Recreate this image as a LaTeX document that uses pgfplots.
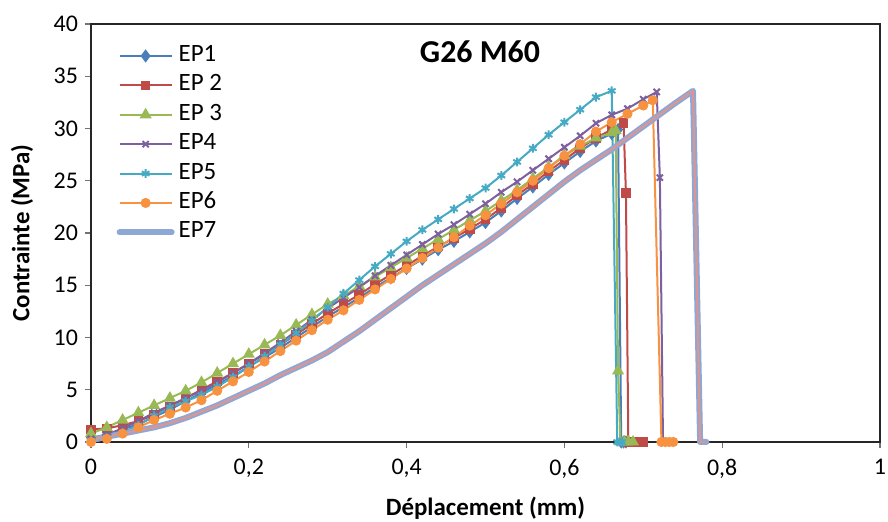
\documentclass[border=0pt]{standalone}
\usepackage{fontspec}
\setmainfont{Carlito}
\usepackage{pgfplots}
\usepackage{pgfplotstable}
\pgfplotsset{compat=1.18}
\usetikzlibrary{plotmarks}

\definecolor{c1}{HTML}{4A7EBB}
\definecolor{c2}{HTML}{BE4B48}
\definecolor{c3}{HTML}{98B954}
\definecolor{c4}{HTML}{7D60A0}
\definecolor{c5}{HTML}{46AAC5}
\definecolor{c6}{HTML}{F69240}
\definecolor{c7}{HTML}{8EA8D6}
\definecolor{c8}{HTML}{D99694}

% Stress (MPa) versus displacement (mm), specimens EP1 to EP7
\pgfplotstableread{
x y
0 0.4
0.02 0.7
0.04 1.2
0.06 1.7
0.08 2.4
0.10 3.1
0.12 3.9
0.14 4.7
0.16 5.5
0.18 6.3
0.20 7.2
0.22 8.1
0.24 9.0
0.26 10.0
0.28 11.0
0.30 12.0
0.32 12.9
0.34 13.8
0.36 14.8
0.38 15.7
0.40 16.6
0.42 17.5
0.44 18.4
0.46 19.2
0.48 20.1
0.50 21.0
0.52 22.1
0.54 23.3
0.56 24.4
0.58 25.6
0.60 26.7
0.62 27.8
0.64 28.8
0.66 29.5
0.668 29.9
0.672 0
0.675 0
0.678 0
}\epone

\pgfplotstableread{
x y
0 1.2
0.02 1.3
0.04 1.6
0.06 2.0
0.08 2.6
0.10 3.4
0.12 4.2
0.14 5.0
0.16 5.8
0.18 6.6
0.20 7.5
0.22 8.4
0.24 9.3
0.26 10.3
0.28 11.3
0.30 12.3
0.32 13.2
0.34 14.1
0.36 15.1
0.38 16.0
0.40 16.9
0.42 17.8
0.44 18.7
0.46 19.5
0.48 20.4
0.50 21.3
0.52 22.4
0.54 23.6
0.56 24.7
0.58 25.9
0.60 27.0
0.62 28.1
0.64 29.1
0.66 29.9
0.675 30.5
0.678 23.8
0.681 0
0.686 0
0.691 0
0.696 0
0.700 0
}\eptwo

\pgfplotstableread{
x y
0 0.8
0.02 1.4
0.04 2.1
0.06 2.8
0.08 3.5
0.10 4.2
0.12 4.9
0.14 5.7
0.16 6.6
0.18 7.5
0.20 8.4
0.22 9.3
0.24 10.2
0.26 11.2
0.28 12.2
0.30 13.2
0.32 14.0
0.34 14.9
0.36 15.8
0.38 16.7
0.40 17.6
0.42 18.5
0.44 19.4
0.46 20.3
0.48 21.2
0.50 22.1
0.52 23.1
0.54 24.1
0.56 25.2
0.58 26.3
0.60 27.4
0.62 28.3
0.64 29.1
0.66 29.6
0.665 29.8
0.668 6.8
0.671 0
0.676 0
0.681 0
0.687 0
}\epthree

\pgfplotstableread{
x y
0 0.3
0.02 0.7
0.04 1.3
0.06 2.0
0.08 2.8
0.10 3.5
0.12 4.2
0.14 4.9
0.16 5.7
0.18 6.6
0.20 7.5
0.22 8.5
0.24 9.5
0.26 10.6
0.28 11.7
0.30 12.8
0.32 13.8
0.34 14.8
0.36 15.9
0.38 16.9
0.40 17.9
0.42 18.9
0.44 19.9
0.46 20.8
0.48 21.8
0.50 22.8
0.52 23.9
0.54 24.9
0.56 26.0
0.58 27.1
0.60 28.2
0.62 29.3
0.64 30.5
0.66 31.3
0.68 31.9
0.70 32.8
0.717 33.5
0.721 25.3
0.725 0
0.730 0
}\epfour

\pgfplotstableread{
x y
0 0.1
0.02 0.4
0.04 0.9
0.06 1.6
0.08 2.5
0.10 3.3
0.12 3.9
0.14 4.5
0.16 5.3
0.18 6.2
0.20 7.2
0.22 8.2
0.24 9.3
0.26 10.4
0.28 11.6
0.30 12.9
0.32 14.2
0.34 15.5
0.36 16.8
0.38 18.0
0.40 19.2
0.42 20.3
0.44 21.3
0.46 22.3
0.48 23.3
0.50 24.3
0.52 25.5
0.54 26.8
0.56 28.1
0.58 29.4
0.60 30.6
0.62 31.8
0.64 33.0
0.66 33.6
0.667 0
0.670 0
0.673 0
}\epfive

\pgfplotstableread{
x y
0 0.0
0.02 0.3
0.04 0.8
0.06 1.4
0.08 2.1
0.10 2.7
0.12 3.3
0.14 4.0
0.16 4.9
0.18 5.8
0.20 6.7
0.22 7.7
0.24 8.7
0.26 9.7
0.28 10.7
0.30 11.7
0.32 12.6
0.34 13.6
0.36 14.6
0.38 15.6
0.40 16.6
0.42 17.6
0.44 18.6
0.46 19.6
0.48 20.7
0.50 21.7
0.52 22.8
0.54 23.9
0.56 25.0
0.58 26.2
0.60 27.4
0.62 28.5
0.64 29.7
0.66 30.6
0.68 31.4
0.70 32.2
0.712 32.7
0.723 0
0.728 0
0.733 0
0.738 0
}\epsix

\pgfplotstableread{
x y
0 0.2
0.02 0.5
0.04 0.8
0.06 1.1
0.08 1.4
0.10 1.8
0.12 2.3
0.14 2.9
0.16 3.5
0.18 4.2
0.20 4.9
0.22 5.6
0.24 6.4
0.26 7.1
0.28 7.8
0.30 8.6
0.32 9.6
0.34 10.6
0.36 11.7
0.38 12.8
0.40 13.9
0.42 15.0
0.44 16.0
0.46 17.0
0.48 18.0
0.50 19.0
0.52 20.1
0.54 21.3
0.56 22.5
0.58 23.7
0.60 24.9
0.62 26.0
0.64 27.0
0.66 28.0
0.68 29.1
0.70 30.2
0.72 31.3
0.74 32.4
0.763 33.6
0.772 0
0.780 0
}\epseven

\begin{document}
\begin{tikzpicture}
\begin{axis}[
  scale only axis,
  width=394.5bp, height=209bp,
  xmin=0, xmax=1, ymin=0, ymax=40,
  xtick={0,0.2,0.4,0.6,0.8,1},
  ytick={0,5,10,15,20,25,30,35,40},
  xtick pos=bottom, ytick pos=left,
  tick align=outside,
  major tick length=3bp,
  axis line style={black!85, line width=0.9bp},
  tick style={black!55, line width=0.6bp},
  ticklabel style={font=\fontsize{12}{14}\selectfont},
  xticklabel style={yshift=-2bp},
  /pgf/number format/use comma,
  /pgf/number format/assume math mode=true,
  xlabel={\textbf{Déplacement (mm)}},
  ylabel={\textbf{Contrainte (MPa)}},
  label style={font=\fontsize{12.5}{14}\selectfont},
  xlabel style={at={(axis description cs:0.5,-0.158)}, anchor=center},
  ylabel style={at={(axis description cs:-0.0875,0.5)}, anchor=center},
  clip=false,
  legend cell align=left,
  legend style={
    at={(axis description cs:0.032,0.952)}, anchor=north west,
    draw=none, fill=none, inner sep=0pt,
    font=\fontsize{12.5}{14}\selectfont,
    row sep=3.2bp, column sep=2bp,
    nodes={inner sep=0bp, text height=8.5bp, text depth=3bp},
  },
  legend image code/.code={%
    \draw[mark repeat=2,mark phase=2,#1]
      plot coordinates {(0bp,0bp) (13bp,0bp) (26bp,0bp)};},
]
\addplot[c1, line width=1bp, mark=diamond*, mark size=2.5bp,
  mark options={solid, fill=c1}] table {\epone};
\addlegendentry{EP1}
\addplot[c2, line width=1bp, mark=square*, mark size=1.9bp,
  mark options={solid, fill=c2}] table {\eptwo};
\addlegendentry{EP 2}
\addplot[c3, line width=1bp, mark=triangle*, mark size=2.5bp,
  mark options={solid, fill=c3}] table {\epthree};
\addlegendentry{EP 3}
\addplot[c4, line width=1bp, mark=x, mark size=2.2bp,
  mark options={solid, line width=1bp}] table {\epfour};
\addlegendentry{EP4}
\addplot[c5, line width=1bp, mark=asterisk, mark size=2.2bp,
  mark options={solid, line width=1bp}] table {\epfive};
\addlegendentry{EP5}
\addplot[c6, line width=1bp, mark=*, mark size=2bp,
  mark options={solid, fill=c6}] table {\epsix};
\addlegendentry{EP6}
\addplot[c7, line width=3bp, line join=round, line cap=round] table {\epseven};
\addlegendentry{EP7}
\addplot[c8, line width=1.1bp, line join=round, forget plot] table {\epseven};

\node[font=\bfseries\fontsize{16}{18}\selectfont] at (axis cs:0.493,37.3) {G26 M60};

\coordinate (ll) at (rel axis cs:0,0);
\coordinate (ur) at (rel axis cs:1,1);
\end{axis}
\pgfresetboundingbox
\path[use as bounding box] ([xshift=-45.5bp,yshift=-40bp]ll) rectangle ([xshift=4bp,yshift=12bp]ur);
\end{tikzpicture}
\end{document}
